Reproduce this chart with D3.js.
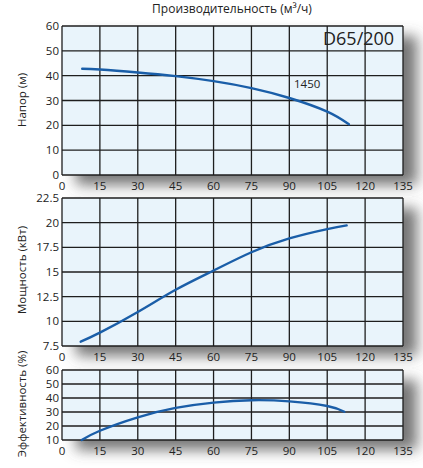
<!DOCTYPE html>
<html>
<head>
<meta charset="utf-8">
<script src="https://cdn.jsdelivr.net/npm/d3@7"></script>
<style>
  html, body { margin: 0; padding: 0; background: #ffffff; }
  svg { display: block; }
  text { font-family: "Open Sans", "DejaVu Sans", sans-serif; fill: #222; }
</style>
</head>
<body>
<svg id="chart" width="423" height="468"></svg>
<script>
// Flow rate (m³/h) ticks shared by all three panels
const flowTicks = [0, 15, 30, 45, 60, 75, 90, 105, 120, 135];

// Head curve, 1450 rpm
const headFlow  = [8, 15, 30, 45, 60, 75, 90, 105, 113.6];
const headValue = [42.8, 42.5, 41.3, 39.8, 37.8, 35.0, 31.0, 25.5, 20.4];
const headTicks = [0, 10, 20, 30, 40, 50, 60];

// Shaft power curve
const powerFlow  = [7.4, 15, 30, 45, 60, 75, 90, 105, 112.7];
const powerValue = [7.94, 8.85, 10.95, 13.2, 15.15, 17.0, 18.4, 19.35, 19.72];
const powerTicks = [7.5, 10, 12.5, 15, 17.5, 20, 22.5];

// Efficiency curve
const effFlow  = [7.8, 15, 30, 45, 60, 75, 90, 105, 111.8];
const effValue = [10, 16.6, 26.2, 32.9, 36.7, 38.4, 37.6, 34.3, 30.2];
const effTicks = [10, 20, 30, 40, 50, 60];

const svg = d3.select("#chart");

const defs = svg.append("defs");
const shadow = defs.append("filter").attr("id", "panelShadow")
  .attr("x", "-10%").attr("y", "-30%").attr("width", "130%").attr("height", "180%");
shadow.append("feDropShadow")
  .attr("dx", 14).attr("dy", 10).attr("stdDeviation", 7)
  .attr("flood-color", "#555").attr("flood-opacity", 0.8);

const left = 62, right = 403;
const x = d3.scaleLinear().domain([0, 135]).range([left, right]);

const panels = [
  { top: 26,  bottom: 175, ticks: headTicks,  flow: headFlow,  vals: headValue,  label: "Напор (м)",         labelY: 100 },
  { top: 198, bottom: 346, ticks: powerTicks, flow: powerFlow, vals: powerValue, label: "Мощность (кВт)",    labelY: 270 },
  { top: 370, bottom: 440, ticks: effTicks,   flow: effFlow,   vals: effValue,   label: "Эффективность (%)", labelY: 404 }
];

const fmt = d => (Number.isInteger(d) ? d3.format("d")(d) : d3.format(".1f")(d));

// Shadows first so no panel's shadow covers another panel
panels.forEach(p => {
  svg.append("rect")
    .attr("x", left).attr("y", p.top)
    .attr("width", right - left).attr("height", p.bottom - p.top)
    .attr("fill", "#e9f4fb")
    .attr("filter", "url(#panelShadow)");
});

panels.forEach(p => {
  const y = d3.scaleLinear().domain(d3.extent(p.ticks)).range([p.bottom, p.top]);
  const g = svg.append("g");

  g.append("rect")
    .attr("x", left).attr("y", p.top)
    .attr("width", right - left).attr("height", p.bottom - p.top)
    .attr("fill", "#e9f4fb");

  // vertical grid
  g.selectAll("line.vg").data(flowTicks).enter().append("line")
    .attr("x1", d => x(d)).attr("x2", d => x(d))
    .attr("y1", p.top).attr("y2", p.bottom)
    .attr("stroke", "#1e1e1e").attr("stroke-width", 1.3);

  // horizontal grid
  g.selectAll("line.hg").data(p.ticks).enter().append("line")
    .attr("x1", left).attr("x2", right)
    .attr("y1", d => y(d)).attr("y2", d => y(d))
    .attr("stroke", "#1e1e1e").attr("stroke-width", 1.3);

  // y tick labels
  g.selectAll("text.yt").data(p.ticks).enter().append("text")
    .attr("x", left - 3).attr("y", d => y(d))
    .attr("dy", "0.36em")
    .attr("text-anchor", "end")
    .attr("font-size", 11.5)
    .text(fmt);

  // x tick labels
  g.selectAll("text.xt").data(flowTicks).enter().append("text")
    .attr("x", d => x(d)).attr("y", p.bottom + 11)
    .attr("dy", "0.36em")
    .attr("text-anchor", "middle")
    .attr("font-size", 11.5)
    .text(d => d);

  // axis title
  g.append("text")
    .attr("transform", `translate(22,${p.labelY}) rotate(-90)`)
    .attr("text-anchor", "middle")
    .attr("dy", "0.36em")
    .attr("font-size", 11.5)
    .text(p.label);

  // curve
  const pts = p.flow.map((q, i) => [q, p.vals[i]]);
  g.append("path")
    .datum(pts)
    .attr("fill", "none")
    .attr("stroke", "#1a5ea8")
    .attr("stroke-width", 2.4)
    .attr("stroke-linecap", "round")
    .attr("d", d3.line().x(d => x(d[0])).y(d => y(d[1])).curve(d3.curveNatural));
});

// Top title
svg.append("text")
  .attr("x", 232).attr("y", 13)
  .attr("text-anchor", "middle")
  .attr("font-size", 12)
  .text("Производительность (м³/ч)");

// Model and speed annotations
svg.append("text")
  .attr("x", 323).attr("y", 45)
  .attr("font-size", 18)
  .text("D65/200");

svg.append("text")
  .attr("x", 294).attr("y", 88)
  .attr("font-size", 11.5)
  .text("1450");
</script>
</body>
</html>
